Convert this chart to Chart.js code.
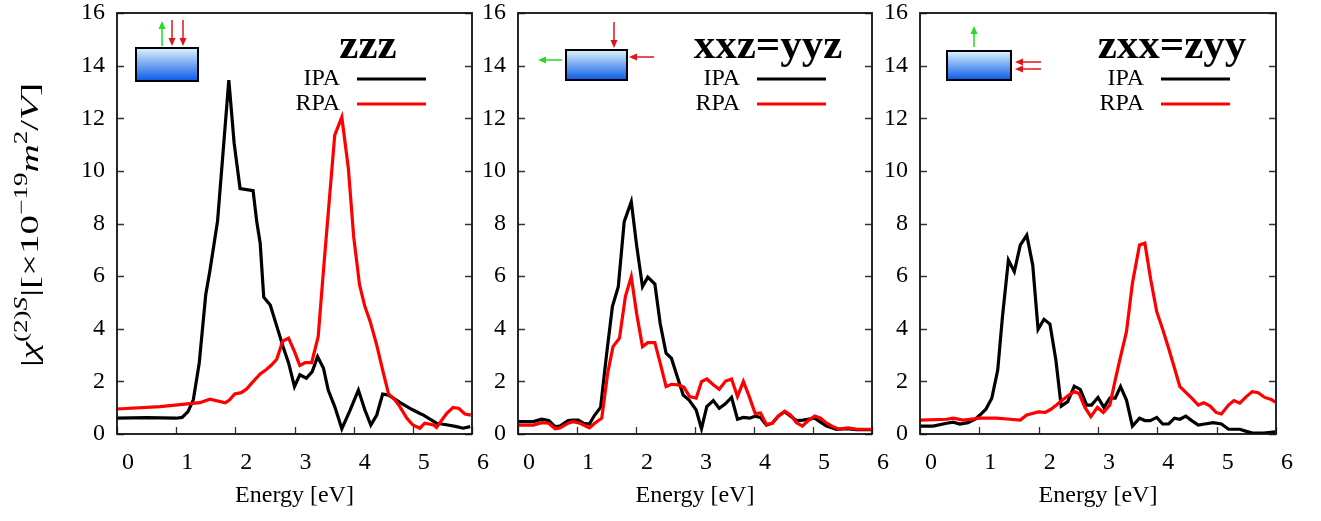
<!DOCTYPE html>
<html>
<head>
<meta charset="utf-8">
<script src="https://cdn.jsdelivr.net/npm/chart.js@4.4.0/dist/chart.umd.min.js"></script>
<style>
  body { margin: 0; background: #fff; }
  #wrap { position: relative; width: 1321px; height: 521px; overflow: hidden; background: #fff; }
  canvas { position: absolute; top: 0; }
</style>
</head>
<body>
<div id="wrap">
  <canvas id="chartZzz" width="496" height="521" style="left:0px"></canvas>
  <canvas id="chartXxz" width="428" height="521" style="left:468px"></canvas>
  <canvas id="chartZxx" width="436" height="521" style="left:870px"></canvas>
</div>
<script>
// axis ticks
const energyTicks = [0, 1, 2, 3, 4, 5, 6];
const chiTicks = [0, 2, 4, 6, 8, 10, 12, 14, 16];

// zzz panel
const zzzIpaE = [0, 0.5, 1.0, 1.1, 1.2, 1.29, 1.39, 1.5, 1.57, 1.7, 1.89, 1.98, 2.08, 2.3, 2.36, 2.42, 2.48, 2.59, 2.7, 2.81, 2.9, 3.0, 3.09, 3.2, 3.3, 3.39, 3.49, 3.57, 3.68, 3.8, 3.94, 4.08, 4.19, 4.29, 4.39, 4.49, 4.59, 4.78, 4.98, 5.12, 5.18, 5.4, 5.57, 5.74, 5.85, 5.97];
const zzzIpaV = [0.6, 0.62, 0.6, 0.63, 0.85, 1.3, 2.7, 5.3, 6.2, 8.1, 13.45, 11.05, 9.33, 9.25, 8.1, 7.25, 5.2, 4.9, 4.1, 3.3, 2.7, 1.8, 2.25, 2.12, 2.37, 2.94, 2.5, 1.67, 1.04, 0.2, 0.91, 1.67, 0.91, 0.34, 0.72, 1.52, 1.48, 1.2, 0.94, 0.78, 0.72, 0.41, 0.35, 0.28, 0.22, 0.28];
const zzzRpaE = [0, 0.73, 1.4, 1.57, 1.83, 1.9, 1.99, 2.1, 2.19, 2.3, 2.42, 2.53, 2.61, 2.7, 2.8, 2.9, 3.0, 3.09, 3.18, 3.29, 3.4, 3.49, 3.57, 3.68, 3.8, 3.91, 4.0, 4.1, 4.19, 4.28, 4.39, 4.49, 4.59, 4.7, 4.78, 4.9, 5.0, 5.12, 5.2, 5.35, 5.4, 5.57, 5.68, 5.78, 5.88, 5.98];
const zzzRpaV = [0.95, 1.04, 1.19, 1.32, 1.19, 1.29, 1.52, 1.57, 1.71, 1.99, 2.28, 2.46, 2.62, 2.84, 3.53, 3.64, 3.13, 2.6, 2.71, 2.71, 3.7, 6.23, 8.39, 11.36, 12.04, 10.1, 7.5, 5.66, 4.84, 4.27, 3.38, 2.43, 1.52, 1.29, 1.04, 0.6, 0.34, 0.22, 0.41, 0.34, 0.25, 0.78, 1.01, 0.97, 0.76, 0.72];

// xxz=yyz panel
const xxzIpaE = [0, 0.26, 0.4, 0.52, 0.63, 0.71, 0.85, 0.93, 1.02, 1.11, 1.21, 1.3, 1.4, 1.5, 1.6, 1.7, 1.8, 1.92, 2.01, 2.11, 2.2, 2.32, 2.41, 2.51, 2.6, 2.7, 2.8, 2.9, 3.02, 3.11, 3.2, 3.31, 3.41, 3.51, 3.62, 3.72, 3.82, 3.93, 4.02, 4.11, 4.21, 4.31, 4.41, 4.52, 4.62, 4.72, 4.83, 5.03, 5.14, 5.23, 5.4, 5.57, 5.74, 5.99];
const xxzIpaV = [0.47, 0.47, 0.56, 0.51, 0.28, 0.3, 0.51, 0.53, 0.53, 0.41, 0.38, 0.72, 1.01, 3.0, 4.84, 5.6, 8.07, 8.83, 7.18, 5.6, 5.96, 5.7, 4.2, 3.07, 2.88, 2.18, 1.48, 1.29, 0.91, 0.2, 1.04, 1.27, 0.98, 1.14, 1.39, 0.56, 0.63, 0.6, 0.68, 0.63, 0.34, 0.41, 0.68, 0.85, 0.68, 0.51, 0.53, 0.6, 0.43, 0.3, 0.18, 0.2, 0.17, 0.17];
const xxzRpaE = [0, 0.26, 0.4, 0.52, 0.63, 0.71, 0.85, 0.93, 1.05, 1.21, 1.3, 1.42, 1.52, 1.61, 1.72, 1.82, 1.92, 2.01, 2.11, 2.2, 2.32, 2.41, 2.51, 2.6, 2.71, 2.81, 2.91, 3.02, 3.11, 3.2, 3.31, 3.41, 3.52, 3.62, 3.72, 3.82, 3.92, 4.02, 4.11, 4.21, 4.31, 4.41, 4.52, 4.62, 4.72, 4.82, 4.92, 5.03, 5.13, 5.23, 5.34, 5.43, 5.6, 5.74, 5.99];
const xxzRpaV = [0.34, 0.34, 0.43, 0.41, 0.2, 0.23, 0.41, 0.47, 0.41, 0.23, 0.41, 0.6, 2.31, 3.32, 3.64, 5.22, 5.98, 4.59, 3.32, 3.47, 3.47, 2.69, 1.8, 1.89, 1.87, 1.78, 1.42, 1.36, 1.99, 2.09, 1.87, 1.7, 2.01, 2.09, 1.42, 2.0, 1.42, 0.78, 0.8, 0.36, 0.41, 0.68, 0.87, 0.72, 0.43, 0.3, 0.51, 0.68, 0.6, 0.41, 0.28, 0.19, 0.23, 0.18, 0.18];

// zxx=zyy panel
const zxxIpaE = [0, 0.22, 0.45, 0.56, 0.67, 0.81, 0.93, 1.01, 1.11, 1.21, 1.31, 1.39, 1.49, 1.59, 1.69, 1.8, 1.9, 1.99, 2.09, 2.19, 2.29, 2.38, 2.49, 2.6, 2.7, 2.81, 2.89, 3.0, 3.1, 3.2, 3.29, 3.38, 3.48, 3.58, 3.7, 3.79, 3.88, 3.99, 4.09, 4.19, 4.29, 4.38, 4.48, 4.58, 4.69, 4.8, 4.94, 5.08, 5.2, 5.39, 5.5, 5.62, 5.79, 5.99];
const zxxIpaV = [0.3, 0.3, 0.41, 0.45, 0.38, 0.43, 0.56, 0.72, 0.94, 1.36, 2.43, 4.46, 6.61, 6.17, 7.18, 7.56, 6.42, 3.98, 4.36, 4.18, 2.81, 1.06, 1.23, 1.82, 1.7, 1.1, 1.1, 1.39, 1.01, 1.36, 1.36, 1.8, 1.29, 0.3, 0.6, 0.51, 0.51, 0.63, 0.38, 0.38, 0.6, 0.56, 0.68, 0.51, 0.34, 0.38, 0.43, 0.38, 0.18, 0.18, 0.1, 0.03, 0.03, 0.08];
const zxxRpaE = [0, 0.45, 0.56, 0.73, 1.01, 1.29, 1.52, 1.69, 1.8, 1.91, 1.99, 2.11, 2.2, 2.3, 2.4, 2.51, 2.6, 2.68, 2.78, 2.88, 2.99, 3.09, 3.2, 3.29, 3.38, 3.48, 3.58, 3.7, 3.79, 3.89, 3.99, 4.09, 4.19, 4.29, 4.38, 4.48, 4.58, 4.69, 4.78, 4.89, 4.99, 5.08, 5.2, 5.29, 5.39, 5.5, 5.6, 5.7, 5.81, 5.92, 5.99];
const zxxRpaV = [0.53, 0.56, 0.6, 0.53, 0.6, 0.6, 0.56, 0.53, 0.72, 0.79, 0.84, 0.82, 0.93, 1.1, 1.29, 1.48, 1.61, 1.54, 1.01, 0.66, 1.01, 0.82, 1.1, 2.05, 2.94, 3.89, 5.73, 7.18, 7.25, 5.85, 4.65, 3.98, 3.26, 2.5, 1.8, 1.58, 1.36, 1.1, 1.19, 1.06, 0.82, 0.76, 1.1, 1.27, 1.17, 1.42, 1.61, 1.57, 1.39, 1.31, 1.21];

const SERIF = "'Liberation Serif', 'DejaVu Serif', serif";
Chart.defaults.font.family = SERIF;
Chart.defaults.color = '#000';

function pts(xs, ys) {
  return xs.map((x, i) => ({ x: x, y: ys[i] }));
}

// little arrow helper for the geometry sketches
function arrow(ctx, x1, y1, x2, y2, color) {
  const ang = Math.atan2(y2 - y1, x2 - x1);
  const hl = 8, hw = 3.5;
  ctx.strokeStyle = color;
  ctx.fillStyle = color;
  ctx.lineWidth = 1.5;
  ctx.beginPath();
  ctx.moveTo(x1, y1);
  ctx.lineTo(x2 - Math.cos(ang) * hl * 0.8, y2 - Math.sin(ang) * hl * 0.8);
  ctx.stroke();
  ctx.beginPath();
  ctx.moveTo(x2, y2);
  ctx.lineTo(x2 - Math.cos(ang) * hl + Math.sin(ang) * hw, y2 - Math.sin(ang) * hl - Math.cos(ang) * hw);
  ctx.lineTo(x2 - Math.cos(ang) * hl - Math.sin(ang) * hw, y2 - Math.sin(ang) * hl + Math.cos(ang) * hw);
  ctx.closePath();
  ctx.fill();
}

function slab(ctx, x1, y1, x2, y2) {
  const g = ctx.createLinearGradient(0, y1, 0, y2);
  g.addColorStop(0, '#dcf3fc');
  g.addColorStop(1, '#0a5ae8');
  ctx.fillStyle = g;
  ctx.fillRect(x1, y1, x2 - x1, y2 - y1);
  ctx.strokeStyle = '#000';
  ctx.lineWidth = 2;
  ctx.strokeRect(x1, y1, x2 - x1, y2 - y1);
}

const GREEN = '#22dd22';
const RED = '#e0141a';

const sketches = {
  zzz: (ctx, l) => {
    slab(ctx, l + 19, 48, l + 81, 81);
    arrow(ctx, l + 45, 46, l + 45, 21, GREEN);
    arrow(ctx, l + 55, 20, l + 55, 46, RED);
    arrow(ctx, l + 66, 20, l + 66, 46, RED);
  },
  xxz: (ctx, l) => {
    slab(ctx, l + 48, 50, l + 109, 80);
    arrow(ctx, l + 96, 22, l + 96, 48, RED);
    arrow(ctx, l + 136, 57, l + 111, 57, RED);
    arrow(ctx, l + 44, 60, l + 20, 60, GREEN);
  },
  zxx: (ctx, l) => {
    slab(ctx, l + 27, 51, l + 91, 80);
    arrow(ctx, l + 54, 47, l + 54, 26, GREEN);
    arrow(ctx, l + 121, 62, l + 95, 62, RED);
    arrow(ctx, l + 121, 69, l + 95, 69, RED);
  }
};

// frame, inward tick marks, title, legend, sketch
const panelDecor = {
  id: 'panelDecor',
  afterDraw(chart, args, opts) {
    const ctx = chart.ctx;
    const a = chart.chartArea;
    const xs = chart.scales.x, ys = chart.scales.y;
    ctx.save();

    // tick marks pointing in
    ctx.strokeStyle = '#333';
    ctx.lineWidth = 1.3;
    ctx.beginPath();
    ys.ticks.forEach(t => {
      const y = Math.round(ys.getPixelForValue(t.value)) + 0.5;
      ctx.moveTo(a.left, y); ctx.lineTo(a.left + 7, y);
      ctx.moveTo(a.right, y); ctx.lineTo(a.right - 7, y);
    });
    xs.ticks.forEach(t => {
      const x = Math.round(xs.getPixelForValue(t.value)) + 0.5;
      ctx.moveTo(x, a.bottom); ctx.lineTo(x, a.bottom - 7);
    });
    ctx.stroke();

    // frame
    ctx.strokeStyle = '#111';
    ctx.lineWidth = 1.8;
    ctx.strokeRect(a.left, a.top, a.right - a.left, a.bottom - a.top);

    // panel title
    ctx.fillStyle = '#000';
    ctx.textAlign = 'center';
    ctx.textBaseline = 'alphabetic';
    ctx.font = 'bold 43px ' + SERIF;
    ctx.fillText(opts.title, a.right - 104, 58);

    // legend
    ctx.font = '24px ' + SERIF;
    ctx.textAlign = 'right';
    chart.data.datasets.forEach((ds, i) => {
      const base = 85 + i * 25;
      ctx.fillStyle = '#000';
      ctx.fillText(ds.label, a.right - 132, base);
      ctx.strokeStyle = ds.borderColor;
      ctx.lineWidth = 3.2;
      ctx.beginPath();
      ctx.moveTo(a.right - 115, base - 6);
      ctx.lineTo(a.right - 46, base - 6);
      ctx.stroke();
    });

    sketches[opts.sketch](ctx, a.left);
    ctx.restore();
  }
};

// y axis title with sub-parts
const yTitle = {
  id: 'yTitle',
  afterDraw(chart, args, opts) {
    if (!opts.show) return;
    const ctx = chart.ctx;
    const parts = [
      { t: '|', f: '26px', dy: 0 },
      { t: 'χ', f: 'italic 26px', dy: 0 },
      { t: '(2)', f: '18px', dy: -11 },
      { t: 'S', f: 'italic 18px', dy: -11 },
      { t: '|[×10', f: '26px', dy: 0 },
      { t: '−19', f: '18px', dy: -11 },
      { t: 'm', f: 'italic 26px', dy: 0 },
      { t: '2', f: '18px', dy: -11 },
      { t: '/', f: '26px', dy: 0 },
      { t: 'V', f: 'italic 26px', dy: 0 },
      { t: ']', f: '26px', dy: 0 }
    ];
    ctx.save();
    let total = 0;
    parts.forEach(p => {
      ctx.font = p.f + ' ' + SERIF;
      p.w = ctx.measureText(p.t).width;
      total += p.w;
    });
    const sx = 284 / total;
    ctx.translate(38, 367);
    ctx.rotate(-Math.PI / 2);
    ctx.scale(sx, 1);
    ctx.fillStyle = '#000';
    ctx.textAlign = 'left';
    ctx.textBaseline = 'alphabetic';
    let x = 0;
    parts.forEach(p => {
      ctx.font = p.f + ' ' + SERIF;
      ctx.fillText(p.t, x, p.dy);
      x += p.w;
    });
    ctx.restore();
  }
};

function makeChart(id, padL, padR, title, sketch, ipaE, ipaV, rpaE, rpaV, showY) {
  return new Chart(document.getElementById(id), {
    type: 'line',
    data: {
      datasets: [
        { label: 'IPA', data: pts(ipaE, ipaV), borderColor: '#000', borderWidth: 3.2, pointRadius: 0, tension: 0, fill: false, order: 1 },
        { label: 'RPA', data: pts(rpaE, rpaV), borderColor: '#ff0000', borderWidth: 3.2, pointRadius: 0, tension: 0, fill: false, order: 0 }
      ]
    },
    options: {
      responsive: false,
      animation: false,
      events: [],
      layout: { autoPadding: false, padding: { top: 13, right: padR, left: 0, bottom: 0 } },
      plugins: {
        legend: { display: false },
        tooltip: { enabled: false },
        panelDecor: { title: title, sketch: sketch },
        yTitle: { show: showY }
      },
      scales: {
        x: {
          type: 'linear',
          min: energyTicks[0],
          max: energyTicks[energyTicks.length - 1],
          afterFit: s => { s.height = 87; s.paddingLeft = 0; s.paddingRight = 0; },
          afterBuildTicks: s => { s.ticks = energyTicks.map(v => ({ value: v })); },
          grid: { display: false, drawTicks: false },
          border: { display: false },
          ticks: { padding: 14, labelOffset: 11, maxRotation: 0, autoSkip: false, color: '#000', font: { size: 24 } },
          title: { display: true, text: 'Energy [eV]', color: '#000', font: { size: 24 }, padding: { top: 0, bottom: 11 } }
        },
        y: {
          min: chiTicks[0],
          max: chiTicks[chiTicks.length - 1],
          afterFit: s => { s.width = padL; s.paddingTop = 0; s.paddingBottom = 0; },
          afterBuildTicks: s => { s.ticks = chiTicks.map(v => ({ value: v })); },
          grid: { display: false, drawTicks: false },
          border: { display: false },
          ticks: { padding: 12, color: '#000', font: { size: 24 } }
        }
      }
    },
    plugins: [panelDecor, yTitle]
  });
}

makeChart('chartZzz', 117, 24, 'zzz', 'zzz', zzzIpaE, zzzIpaV, zzzRpaE, zzzRpaV, true);
makeChart('chartXxz', 50, 24, 'xxz=yyz', 'xxz', xxzIpaE, xxzIpaV, xxzRpaE, xxzRpaV, false);
makeChart('chartZxx', 50, 30, 'zxx=zyy', 'zxx', zxxIpaE, zxxIpaV, zxxRpaE, zxxRpaV, false);
</script>
</body>
</html>
